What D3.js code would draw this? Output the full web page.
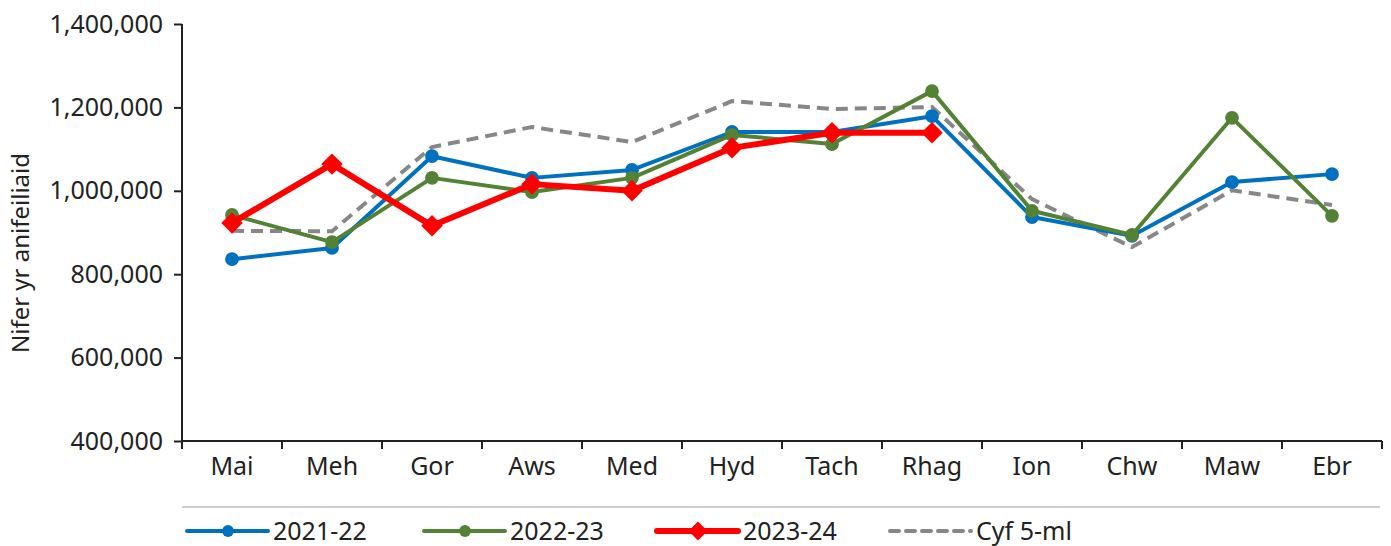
<!DOCTYPE html>
<html><head><meta charset="utf-8">
<script src="https://cdn.jsdelivr.net/npm/d3@7"></script>
<style>body{margin:0;background:#fff}svg{display:block;font-family:"Noto Sans",sans-serif}</style>
</head><body>
<svg id="c" width="1391" height="546"></svg>
<script>
const months = ["Mai","Meh","Gor","Aws","Med","Hyd","Tach","Rhag","Ion","Chw","Maw","Ebr"];
const s2122 = [836000,863000,1083000,1031000,1050000,1141000,1141000,1179000,937000,892000,1021000,1040000];
const s2223 = [942000,877000,1031000,997000,1031000,1134000,1112000,1239000,952000,894000,1175000,940000];
const s2324 = [923000,1064000,916000,1016000,1000000,1103000,1139000,1139000];
const s5yr  = [904000,903000,1105000,1153000,1117000,1215000,1196000,1201000,980000,865000,1001000,966000];
const yTicks = [400000,600000,800000,1000000,1200000,1400000];
const yTitle = "Nifer yr anifeiliaid";
const seriesNames = ["2021-22","2022-23","2023-24","Cyf 5-ml"];

const svg = d3.select("#c");
const L=182,R=1382,T=24,B=441;
const x = d3.scaleBand().domain(months).range([L,R]).padding(0);
const cx = m => x(m)+x.bandwidth()/2;
const y = d3.scaleLinear().domain([400000,1400000]).range([B,T]);
const fmt = d3.format(",");

const ya = svg.append("g").attr("transform",`translate(${L},0)`)
  .call(d3.axisLeft(y).tickValues(yTicks).tickFormat(fmt).tickSize(8).tickPadding(11));
const xa = svg.append("g").attr("transform",`translate(0,${B})`)
  .call(d3.axisBottom(x).tickSize(0).tickPadding(16));
xa.selectAll(".bt").data(months.concat([null])).enter().append("line")
  .attr("x1",(d,i)=>L+i*x.bandwidth()).attr("x2",(d,i)=>L+i*x.bandwidth())
  .attr("y1",0).attr("y2",8).attr("stroke","#222").attr("stroke-width",2);
[ya,xa].forEach(g=>{
  g.select(".domain").attr("stroke","#222").attr("stroke-width",2);
  g.selectAll(".tick line").attr("stroke","#222").attr("stroke-width",2);
  g.selectAll("text").attr("font-size",25).attr("fill","#222").attr("font-family","'Noto Sans',sans-serif");
});
ya.select(".domain").attr("d",`M0,${T}V${B}`);
xa.select(".domain").attr("d",`M${L},0H${R}`);

svg.append("text").attr("transform","translate(29,253) rotate(-90)")
  .attr("text-anchor","middle").attr("font-size",24).attr("fill","#222").text(yTitle);

const line = d3.line().x((d,i)=>cx(months[i])).y(d=>y(d));

svg.append("path").attr("d",line(s5yr)).attr("fill","none").attr("stroke","#878787")
  .attr("stroke-width",4).attr("stroke-dasharray","12,7");

function drawSeries(data,color,w,shape,size,rot){
  svg.append("path").attr("d",line(data)).attr("fill","none").attr("stroke",color)
    .attr("stroke-width",w).attr("stroke-linejoin","round");
  svg.append("g").selectAll("path").data(data).enter().append("path")
    .attr("transform",(d,i)=>`translate(${cx(months[i])},${y(d)}) rotate(${rot})`)
    .attr("d",d3.symbol().type(shape).size(size)).attr("fill",color);
}
drawSeries(s2122,"#0070C0",4,d3.symbolCircle,150,0);
drawSeries(s2223,"#548235",4,d3.symbolCircle,150,0);
drawSeries(s2324,"#FF0000",6,d3.symbolSquare,230,45);

svg.append("line").attr("x1",L).attr("x2",1380).attr("y1",507).attr("y2",507)
  .attr("stroke","#bdbdbd").attr("stroke-width",1.5);

const leg = [
  {n:seriesNames[0],c:"#0070C0",w:4,s:d3.symbolCircle,z:110,r:0,x0:187},
  {n:seriesNames[1],c:"#548235",w:4,s:d3.symbolCircle,z:110,r:0,x0:424},
  {n:seriesNames[2],c:"#FF0000",w:6,s:d3.symbolSquare,z:180,r:45,x0:657},
  {n:seriesNames[3],c:"#878787",w:4,s:null,z:0,r:0,x0:890}
];
const ly = 531;
leg.forEach(l=>{
  const ln = svg.append("line").attr("x1",l.x0).attr("x2",l.x0+81).attr("y1",ly).attr("y2",ly)
    .attr("stroke",l.c).attr("stroke-width",l.w).attr("stroke-linecap","round");
  if(!l.s) ln.attr("stroke-dasharray","9,7");
  if(l.s) svg.append("path").attr("transform",`translate(${l.x0+41},${ly}) rotate(${l.r})`)
    .attr("d",d3.symbol().type(l.s).size(l.z)).attr("fill",l.c);
  svg.append("text").attr("x",l.x0+86).attr("y",ly).attr("dy","0.35em")
    .attr("font-size",25).attr("fill","#222").text(l.n);
});
</script>
</body></html>
